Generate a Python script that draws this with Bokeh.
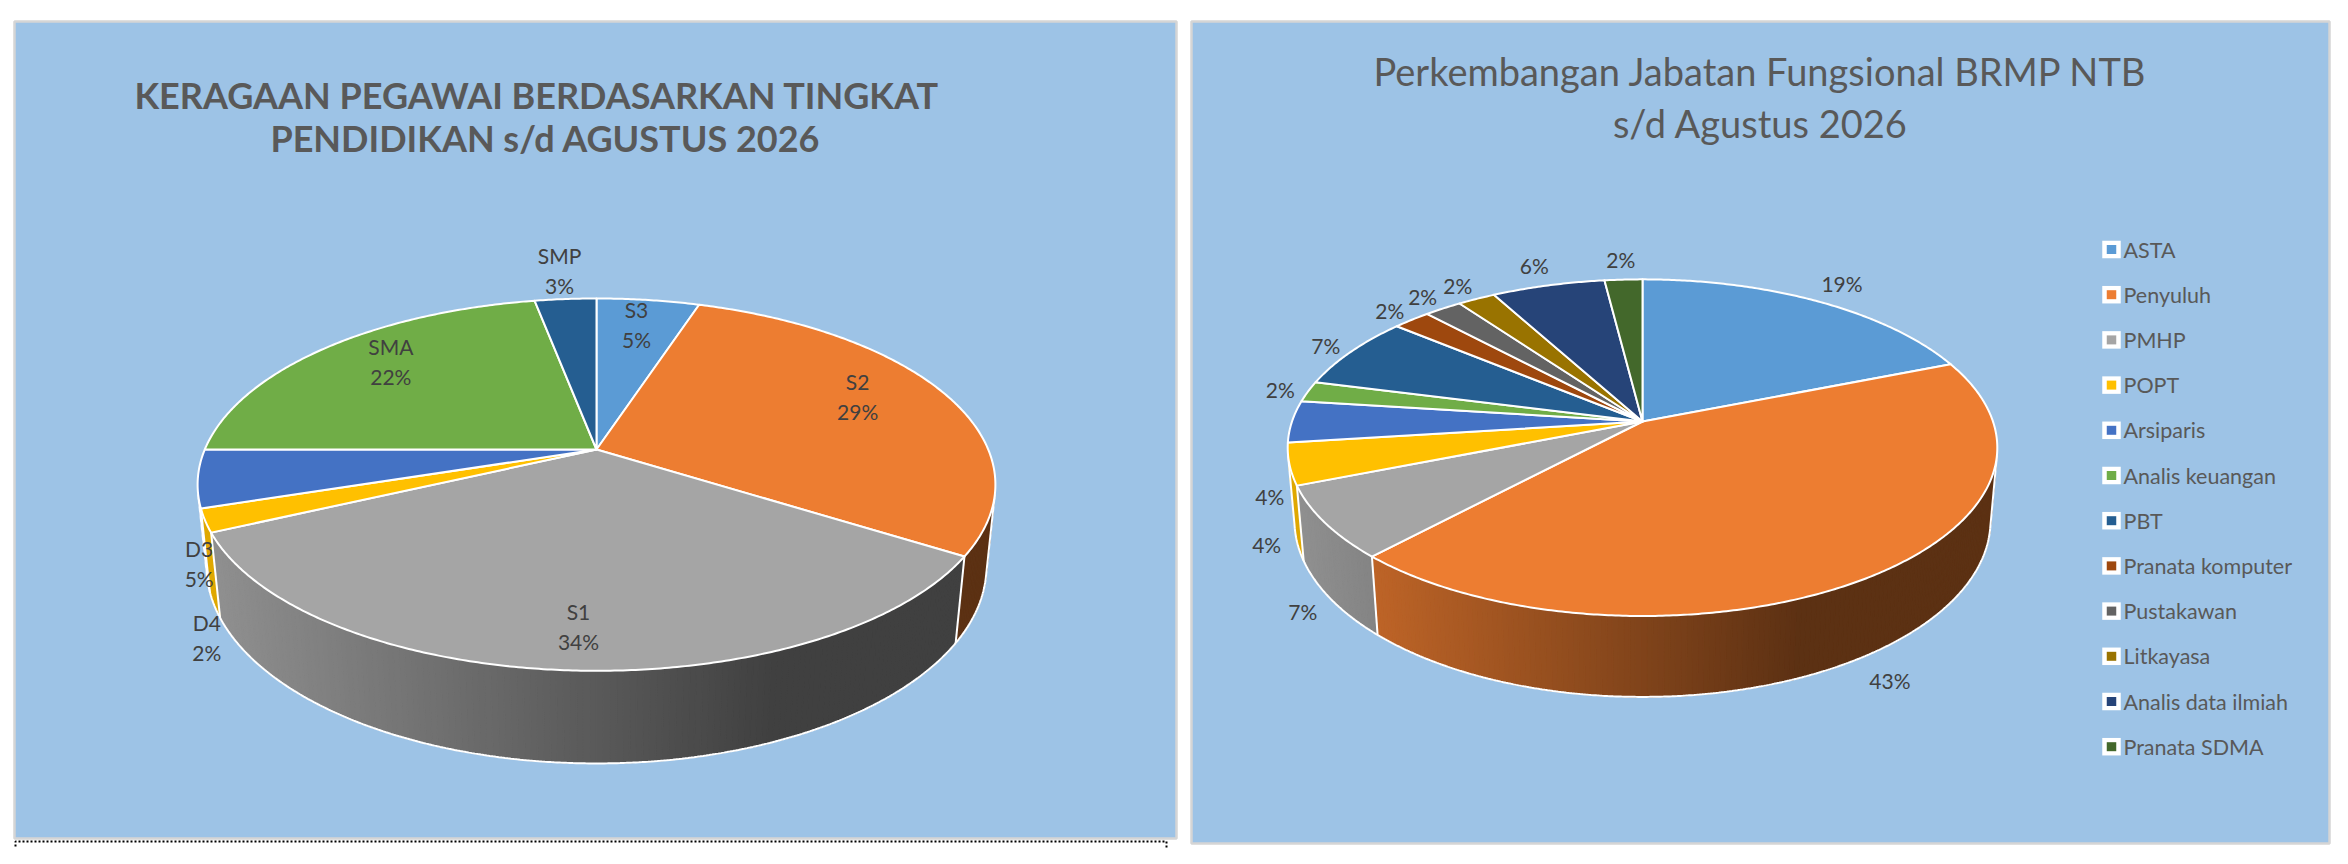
import numpy as np
from bokeh.plotting import figure
from bokeh.models import Range1d
from bokeh.embed import file_html
from bokeh.resources import INLINE
from bokeh.core.properties import value

# ---------------- data ----------------
edu_title = ["KERAGAAN PEGAWAI  BERDASARKAN  TINGKAT", "PENDIDIKAN s/d AGUSTUS 2026"]
edu_categories = ["S3", "S2", "S1", "D4", "D3", "SMA", "SMP"]
edu_values = [5, 29, 34, 2, 5, 22, 3]
edu_colors = ["#5B9BD5", "#ED7D31", "#A5A5A5", "#FFC000", "#4472C4", "#70AD47", "#255E91"]
edu_outside = ["D4", "D3", "SMP"]

jf_title = ["Perkembangan Jabatan Fungsional BRMP NTB", "s/d Agustus 2026"]
jf_categories = ["ASTA", "Penyuluh", "PMHP", "POPT", "Arsiparis", "Analis keuangan", "PBT",
                 "Pranata komputer", "Pustakawan", "Litkayasa", "Analis data ilmiah", "Pranata SDMA"]
jf_values = [19, 43, 7, 4, 4, 2, 7, 2, 2, 2, 6, 2]
jf_colors = ["#5B9BD5", "#ED7D31", "#A5A5A5", "#FFC000", "#4472C4", "#70AD47", "#255E91",
             "#9E480E", "#636363", "#997300", "#264478", "#43682B"]

# ---------------- figure ----------------
W, H = 2332, 848
p = figure(width=W, height=H, x_range=Range1d(0, W), y_range=Range1d(H, 0),
           output_backend="svg", toolbar_location=None, min_border=0,
           x_axis_type=None, y_axis_type=None)
p.outline_line_color = None
p.background_fill_color = "white"
p.border_fill_color = "white"
p.xgrid.visible = False
p.ygrid.visible = False

BG = "#9DC3E6"
p.quad(left=[14, 1191], right=[1176, 2329], top=[21, 21], bottom=[838, 843],
       fill_color=BG, line_color="#D5D5D5", line_width=2.5)
p.multi_line(xs=[[15, 15, 1166, 1166]], ys=[[866, 841, 841, 866]],
             line_color="black", line_width=2, line_dash="2 2")

LABEL_FONT = value("Lato")
TXT = "#404040"
TXT2 = "#595959"


def hex2rgb(h):
    return tuple(int(h[i:i + 2], 16) for i in (1, 3, 5))


def shade(h, k):
    r, g, b = hex2rgb(h)
    return "#%02X%02X%02X" % tuple(int(max(0, min(255, round(c * k)))) for c in (r, g, b))


def make_params(cx, cy, f, D, s, h, kx):
    return dict(cx=cx, cy=cy, f=f, D=D, s=s, c=float(np.sqrt(1 - s * s)), h=h, kx=kx)


def proj(P, theta_deg, r, z):
    th = np.radians(theta_deg)
    u = r * np.sin(th)
    v = r * np.cos(th)
    up = v * P["s"] + z * P["c"]
    depth = P["D"] + v * P["c"] - z * P["s"]
    return P["cx"] + P["kx"] * P["f"] * u / depth, P["cy"] - P["f"] * up / depth


def draw_pie(P, cats, vals, cols, outside, r_anchor, fs, cw, lh):
    total = float(sum(vals))
    cum = np.concatenate([[0.0], np.cumsum(vals)]) / total * 360.0
    h = P["h"]
    half_w = P["kx"] * P["f"] / P["D"]
    x_left = P["cx"] - half_w
    vis0 = float(np.degrees(np.arccos(-1.0 / (P["D"] * P["c"]))))
    vis1 = 360.0 - vis0

    # ---- side wall strips (gradient) ----
    sx, sy, sc = [], [], []
    for i in range(len(vals)):
        a0, a1 = cum[i], cum[i + 1]
        b0, b1 = max(a0, vis0), min(a1, vis1)
        if b1 <= b0:
            continue
        n = max(2, int(np.ceil((b1 - b0) / 0.8)) + 1)
        angs = np.linspace(b0, b1, n)
        tx, ty = proj(P, angs, 1.0, 0.0)
        bx, by = proj(P, angs, 1.0, -h)
        for k in range(n - 1):
            mx = 0.25 * (tx[k] + tx[k + 1] + bx[k] + bx[k + 1])
            t = (mx - x_left) / (2 * half_w)
            kf = float(np.clip(0.88 - 0.68 * t, 0.39, 1.0))
            col = shade(cols[i], kf)
            sx.append([tx[k], tx[k + 1], bx[k + 1], bx[k]])
            sy.append([ty[k], ty[k + 1], by[k + 1], by[k]])
            sc.append(col)
    p.patches(xs=sx, ys=sy, fill_color=sc, line_color=sc, line_width=1.2)

    # ---- wall outlines ----
    angs = np.linspace(vis0, vis1, 400)
    bx, by = proj(P, angs, 1.0, -h)
    lx, ly = [list(bx)], [list(by)]
    edges = [vis0, vis1] + [a for a in cum if vis0 < a < vis1]
    for a in edges:
        x0, y0 = proj(P, a, 1.0, 0.0)
        x1, y1 = proj(P, a, 1.0, -h)
        lx.append([x0, x1])
        ly.append([y0, y1])
    p.multi_line(xs=lx, ys=ly, line_color="white", line_width=2)

    # ---- top faces ----
    fx, fy = [], []
    for i in range(len(vals)):
        a0, a1 = cum[i], cum[i + 1]
        n = max(2, int(np.ceil((a1 - a0) / 0.5)) + 1)
        angs = np.linspace(a0, a1, n)
        ax, ay = proj(P, angs, 1.0, 0.0)
        fx.append([P["cx"]] + list(ax))
        fy.append([P["cy"]] + list(ay))
    p.patches(xs=fx, ys=fy, fill_color=list(cols), line_color="white",
              line_width=2, line_join="round")

    # ---- data labels ----
    pad = 8
    boxes = []
    for i, name in enumerate(cats):
        mid = 0.5 * (cum[i] + cum[i + 1])
        pct = "%d%%" % int(round(100.0 * vals[i] / total))
        lines = [pct] if outside is None else [name, pct]
        front = np.cos(np.radians(mid)) < 1e-9
        if outside is not None and name not in outside:
            if front:
                x, y = proj(P, mid, 0.65, -h / 2)
            else:
                x, y = proj(P, mid, 0.74, 0.03)
            boxes.append([x, y, lines, False])
            continue
        z = -h if front else 0.0
        ax, ay = proj(P, mid, r_anchor, z)
        dx, dy = ax - P["cx"], ay - P["cy"]
        nrm = np.hypot(dx, dy)
        ux, uy = dx / nrm, dy / nrm
        bw = max(len(s) for s in lines) * cw
        bh = len(lines) * lh
        tt = min((bw / 2) / max(abs(ux), 1e-6), (bh / 2) / max(abs(uy), 1e-6))
        boxes.append([ax + ux * tt, ay + uy * tt, lines, True])
    # push overlapping outside labels apart
    outs = sorted([b for b in boxes if b[3]], key=lambda b: b[1])
    for j in range(1, len(outs)):
        a, b = outs[j - 1], outs[j]
        wa = max(len(s) for s in a[2]) * cw + pad
        wb = max(len(s) for s in b[2]) * cw + pad
        ha, hb = len(a[2]) * lh + pad, len(b[2]) * lh + pad
        if abs(a[0] - b[0]) < (wa + wb) / 2 and b[1] - a[1] < (ha + hb) / 2:
            b[1] = a[1] + (ha + hb) / 2 + 6
    tx, ty, tt_ = [], [], []
    for x, y, lines, _ in boxes:
        n = len(lines)
        for k, s in enumerate(lines):
            tx.append(x)
            ty.append(y + (k - (n - 1) / 2.0) * lh)
            tt_.append(s)
    p.text(x=tx, y=ty, text=tt_, text_align="center", text_baseline="middle",
           text_font=LABEL_FONT, text_font_size="%dpx" % fs, text_color=TXT)


# left pie (education)
P_left = make_params(596, 449, 1883, 4.73, 0.451, 0.231, 0.984)
draw_pie(P_left, edu_categories, edu_values, edu_colors, edu_outside, 0.99, 21, 11.5, 30)

# right pie (functional positions)
P_right = make_params(1642, 421, 2022, 5.70, 0.463, 0.234, 0.988)
draw_pie(P_right, jf_categories, jf_values, jf_colors, None, 1.05, 21, 11.5, 28)

# titles
p.text(x=[545, 545], y=[94, 137], text=edu_title, text_align="center", text_baseline="middle",
       text_font=value("Lato"), text_font_style="bold", text_font_size="36px", text_color=TXT2)
p.text(x=[1760, 1760], y=[70, 122], text=jf_title, text_align="center", text_baseline="middle",
       text_font=value("Lato"), text_font_size="38px", text_color=TXT2)

# legend
ly = [249 + i * 45.2 for i in range(len(jf_categories))]
p.rect(x=[2111] * len(ly), y=ly, width=18.5, height=17.5, fill_color="white", line_color=None)
p.rect(x=[2111] * len(ly), y=ly, width=9.5, height=9, fill_color=jf_colors, line_color=None)
p.text(x=[2123] * len(ly), y=ly, text=jf_categories, text_align="left", text_baseline="middle",
       text_font=value("Lato"), text_font_size="21.5px", text_color=TXT2)

open("out.html", "w").write(file_html(p, INLINE))
